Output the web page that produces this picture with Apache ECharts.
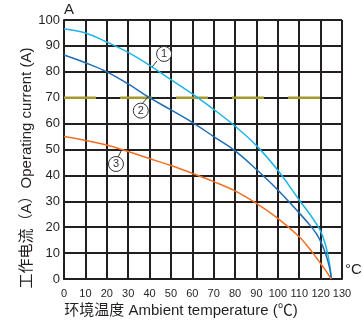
<!DOCTYPE html>
<html>
<head>
<meta charset="utf-8">
<script src="https://cdn.jsdelivr.net/npm/echarts@6/dist/echarts.min.js"></script>
<style>
  html, body { margin: 0; padding: 0; background: #fff; }
  #chart { width: 363px; height: 324px; }
</style>
</head>
<body>
<div id="chart"></div>
<script>
// Values: [temperature (°C), current (A)]
const curve1 = [[0, 96.5], [10, 95], [20, 91.5], [30, 87.5], [40, 82.5], [50, 77], [60, 71.5], [70, 65.5],
  [80, 59], [90, 51.5], [100, 42], [110, 30.5], [115, 25], [118, 21.3], [120, 18.5], [122, 14],
  [123.5, 9], [124.5, 4], [125, 0]];
const curve2 = [[0, 86.5], [10, 83.5], [20, 80], [30, 75.3], [40, 70], [50, 65.3], [60, 60.5], [70, 55],
  [80, 49.5], [90, 42.3], [100, 34.4], [110, 25.5], [115, 20.8], [118, 17.5], [120, 14.5], [122, 10.5],
  [123.5, 6.5], [124.5, 3], [125, 0]];
const curve3 = [[0, 55], [10, 53.5], [20, 51.7], [30, 49.2], [40, 46.5], [50, 43.8], [60, 40.8], [70, 37.6],
  [80, 34], [90, 29.2], [100, 23.4], [110, 16.3], [115, 11.5], [118, 8.2], [120, 6], [122, 3.7],
  [123.5, 1.9], [125, 0]];
const refLine = [[0, 70], [130, 70]];
// Circled curve markers and their leader lines
const markerNames = ['1', '2', '3'];
const markerPos = [[46.8, 86.9], [35.9, 65.0], [24.3, 44.4]];
const leaders = [
  [[43.5, 84.2], [41.2, 81.9]],
  [[36.9, 68.0], [39.3, 70.3]],
  [[25.3, 47.1], [26.7, 49.4]]
];

const ink = '#231f20';
const chart = echarts.init(document.getElementById('chart'));

const curveSeries = (data, color) => ({
  type: 'line',
  data: data,
  smooth: 0.4,
  showSymbol: false,
  silent: true,
  lineStyle: { color: color, width: 1.5 },
  z: 4
});

chart.setOption({
  animation: false,
  grid: { left: 64, right: 21, top: 20, bottom: 45 },
  xAxis: {
    type: 'value',
    min: 0,
    max: 130,
    interval: 10,
    axisLine: { lineStyle: { color: ink, width: 2 } },
    axisTick: { show: false },
    axisLabel: { color: ink, fontSize: 11, margin: 9, fontFamily: 'Liberation Sans' },
    splitLine: { lineStyle: { color: ink, width: 2 } }
  },
  yAxis: {
    type: 'value',
    min: 0,
    max: 100,
    interval: 10,
    axisLine: { show: true, lineStyle: { color: ink, width: 2 } },
    axisTick: { show: false },
    axisLabel: { color: ink, fontSize: 13, margin: 4, fontFamily: 'Liberation Sans' },
    splitLine: { lineStyle: { color: ink, width: 2 } }
  },
  series: [
    {
      type: 'line',
      data: refLine,
      showSymbol: false,
      silent: true,
      lineStyle: { color: '#a39b2c', width: 2.5, type: [32, 24] },
      z: 3
    },
    curveSeries(curve1, '#1db4ea'),
    curveSeries(curve2, '#1d6db5'),
    curveSeries(curve3, '#f26f21'),
    ...leaders.map(seg => ({
      type: 'line',
      data: seg,
      showSymbol: false,
      silent: true,
      lineStyle: { color: '#333', width: 1 },
      z: 5
    })),
    {
      type: 'scatter',
      data: markerPos,
      symbol: 'circle',
      symbolSize: 15,
      silent: true,
      itemStyle: { color: '#fff', borderColor: '#333', borderWidth: 1, opacity: 1 },
      label: {
        show: true,
        position: 'inside',
        formatter: p => markerNames[p.dataIndex],
        color: '#333',
        fontSize: 11,
        fontFamily: 'Liberation Sans'
      },
      z: 6
    }
  ],
  graphic: [
    {
      type: 'text',
      left: 64, top: 2,
      style: { text: 'A', fontSize: 15, fill: ink, fontFamily: 'Liberation Sans' }
    },
    {
      type: 'text',
      left: 345, top: 262,
      style: { text: '°C', fontSize: 15, fill: ink, fontFamily: 'Liberation Sans' }
    },
    {
      type: 'text',
      x: 27, y: 168,
      rotation: Math.PI / 2,
      style: {
        text: '工作电流（A）Operating current (A)',
        fontSize: 15,
        fill: ink,
        fontFamily: '"Liberation Sans", "Noto Sans CJK SC"',
        align: 'center',
        verticalAlign: 'middle'
      }
    },
    {
      type: 'text',
      x: 181, y: 311,
      style: {
        text: '环境温度 Ambient temperature (℃)',
        fontSize: 15,
        fill: ink,
        fontFamily: '"Liberation Sans", "Noto Sans CJK SC"',
        align: 'center',
        verticalAlign: 'middle'
      }
    }
  ]
});
</script>
</body>
</html>
